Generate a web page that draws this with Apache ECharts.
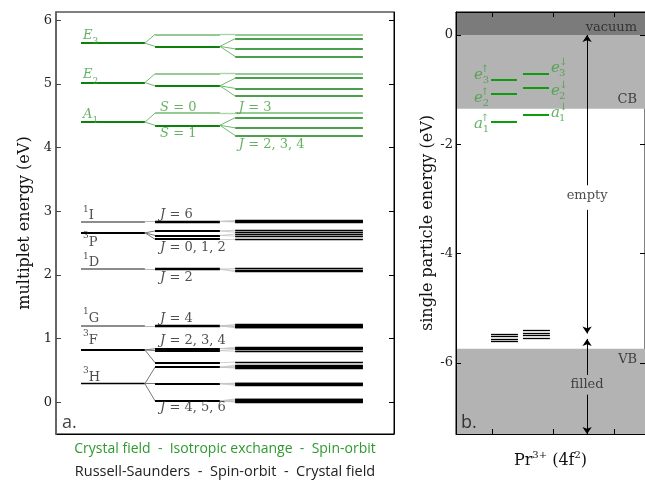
<!DOCTYPE html>
<html><head><meta charset="utf-8">
<script src="https://cdn.jsdelivr.net/npm/echarts@6/dist/echarts.min.js"></script>
<style>html,body{margin:0;padding:0;background:#fff}#c{width:645px;height:481px}</style>
</head><body><div id="c"></div>
<script>
// ================= DATA =================
// ---- panel a ----
const yTicksA = [0, 1, 2, 3, 4, 5, 6];
const stageX = [[0.74, 2.63], [2.93, 4.85], [5.30, 9.08]]; // three stage columns (abstract x units)

// green: crystal field -> isotropic exchange -> spin-orbit
const greenNames = ['E|3', 'E|2', 'A|1'];
const greenCF = [5.64, 5.02, 4.40];
const greenS0 = [5.78, 5.16, 4.54];
const greenS1 = [5.59, 4.97, 4.35];
const greenSO1 = [[5.71, 5.55, 5.43], [5.09, 4.93, 4.81], [4.47, 4.31, 4.19]];

// black: Russell-Saunders -> spin-orbit -> crystal field
const rsNames = ['1|I', '3|P', '1|D', '1|G', '3|F', '3|H'];
const rsE = [2.84, 2.66, 2.09, 1.20, 0.82, 0.29];
const soE = [[2.84], [2.69, 2.62, 2.56], [2.09], [1.20], [0.84, 0.81, 0.62], [0.55, 0.29, 0.02]];
const cfE = [
  [[2.855, 2.845, 2.835, 2.83]],
  [[2.70, 2.67], [2.64, 2.61], [2.56]],
  [[2.10, 2.07, 2.05]],
  [[1.22, 1.21, 1.20, 1.19, 1.18, 1.17]],
  [[0.86, 0.85, 0.84], [0.83, 0.80], [0.63]],
  [[0.58, 0.565, 0.55, 0.535], [0.30, 0.29, 0.28, 0.265], [0.05, 0.04, 0.03, 0.02, 0.01, 0.0]]
];

// labels panel a: [x, y, text]
const greenLabels = [[0.80, 5.76, '{i|E}{sub|3}'], [0.80, 5.14, '{i|E}{sub|2}'], [0.80, 4.52, '{i|A}{sub|1}'],
  [3.08, 4.63, '{i|S} = 0'], [3.08, 4.22, '{i|S} = 1'], [5.41, 4.63, '{i|J} = 3'], [5.41, 4.05, '{i|J} = 2, 3, 4']];
const blackLabels = [[0.80, 2.93, '{sup|1}I'], [3.08, 2.94, '{i|J} = 6'], [0.80, 2.51, '{sup|3}P'],
  [3.08, 2.43, '{i|J} = 0, 1, 2'], [0.80, 2.19, '{sup|1}D'], [3.08, 1.95, '{i|J} = 2'],
  [0.80, 1.32, '{sup|1}G'], [3.08, 1.32, '{i|J} = 4'], [0.80, 0.97, '{sup|3}F'],
  [3.08, 0.97, '{i|J} = 2, 3, 4'], [0.80, 0.39, '{sup|3}H'], [3.08, -0.09, '{i|J} = 4, 5, 6']];

// ---- panel b ----
const xTicksB = [0, 1, 2];
const yTicksB = [0, -2, -4, -6];
const upX = [-0.026, 0.40];
const downX = [0.498, 0.925];
const upLevels = [-0.82, -1.08, -1.59];      // e3, e2, a1 spin up
const downLevels = [-0.71, -0.97, -1.46];    // e3, e2, a1 spin down
const levelLetters = ['e', 'e', 'a'];
const levelIdx = ['3', '2', '1'];
const upLabelY = [-0.73, -1.15, -1.63];
const downLabelY = [-0.60, -1.02, -1.43];
const blackUp = [-5.48, -5.52, -5.57, -5.61];
const blackDown = [-5.41, -5.46, -5.50, -5.55];
const vacuumBand = [0, 0.42];
const cbBand = [-1.35, 0];
const vbBand = [-7.3, -5.74];
const arrowX = 1.55;
const emptyArrows = [[-2.75, 0], [-3.2, -5.46]];
const filledArrows = [[-6.22, -5.56], [-6.58, -7.3]];
const bTexts = [[2.37, 0.13, 'vacuum', 'left'], [2.37, -1.19, 'CB', 'left'], [2.37, -5.94, 'VB', 'left'],
  [arrowX, -2.94, 'empty', 'inside'], [arrowX, -6.40, 'filled', 'inside']];

// ================= STYLES =================
const GD = '#0e800e', GL = '#72b872', GT = '#3f9f3f';
const serif = 'DejaVu Serif';
const linesA = [];
function seg(x0, x1, e0, e1, color, width) {
  linesA.push({ coords: [[x0, e0], [x1, e1]], lineStyle: { color: color, width: width, opacity: 1 } });
}
const [c1, c2, c3] = stageX;
greenCF.forEach((cf, i) => {
  seg(c1[0], c1[1], cf, cf, GD, 2.2);
  seg(c1[1], c2[0], cf, greenS0[i], GL, 1);
  seg(c1[1], c2[0], cf, greenS1[i], GL, 1);
  seg(c2[0], c2[1], greenS0[i], greenS0[i], GL, 1.6);
  seg(c2[0], c2[1], greenS1[i], greenS1[i], GD, 2.2);
  seg(c2[1], c3[0], greenS0[i], greenS0[i], '#a9d6a9', 1.4);
  seg(c3[0], c3[1], greenS0[i], greenS0[i], GL, 1.6);
  greenSO1[i].forEach(so => {
    seg(c2[1], c3[0], greenS1[i], so, GL, 1);
    seg(c3[0], c3[1], so, so, GD, 1.5);
  });
});
rsE.forEach((rs, i) => {
  const triplet = rsNames[i][0] === '3';
  seg(c1[0], c1[1], rs, rs, triplet ? '#000' : '#666', triplet ? (rsNames[i] === '3|H' ? 1.4 : 2.2) : 1.5);
  soE[i].forEach((so, j) => {
    seg(c1[1], c2[0], rs, so, soE[i].length > 1 ? '#777' : '#bbb', 1);
    seg(c2[0], c2[1], so, so, '#000', soE[i].length > 1 ? 1.8 : 2.4);
    cfE[i][j].forEach(cf => {
      seg(c2[1], c3[0], so, cf, '#c4c4c4', 0.8);
      seg(c3[0], c3[1], cf, cf, '#000', 1.3);
    });
  });
});

const linesB = [];
function segB(x0, x1, e0, e1, color, width) {
  linesB.push({ coords: [[x0, e0], [x1, e1]], lineStyle: { color: color, width: width, opacity: 1 } });
}
upLevels.forEach(e => segB(upX[0], upX[1], e, e, '#109a10', 2));
downLevels.forEach(e => segB(downX[0], downX[1], e, e, '#109a10', 2));
blackUp.forEach(e => segB(upX[0], upX[1] + 0.016, e, e, '#000', 1.3));
blackDown.forEach(e => segB(downX[0], downX[1] + 0.015, e, e, '#000', 1.3));
const arrowData = emptyArrows.concat(filledArrows).map(a => ({ coords: [[arrowX, a[0]], [arrowX, a[1]]] }));

function mathRich(color) {
  return {
    i: { fontFamily: serif, fontStyle: 'italic', fontSize: 13, lineHeight: 22, color: color },
    sub: { fontFamily: serif, fontSize: 9, verticalAlign: 'bottom', lineHeight: 10, color: color },
    sup: { fontFamily: serif, fontSize: 9, verticalAlign: 'top', lineHeight: 16, color: color }
  };
}
function labelSeries(data, color, xi, yi) {
  return {
    type: 'scatter', xAxisIndex: xi, yAxisIndex: yi, symbolSize: 0, silent: true, z: 5,
    data: data,
    label: {
      show: true, position: 'right', distance: 0, color: color, fontFamily: serif, fontSize: 13, lineHeight: 22,
      formatter: p => p.data[2], rich: mathRich(color)
    }
  };
}

// panel b state labels (letter + stacked spin/index)
const stateLetters = [], stateStacks = [];
upLevels.forEach((e, i) => {
  stateLetters.push({ value: [upX[0], upLabelY[i], levelLetters[i]], label: { position: 'left', offset: [-8, 0] } });
  stateStacks.push({ value: [upX[0], upLabelY[i], '{s|↑}\n{s|' + levelIdx[i] + '}'], label: { position: 'left', offset: [-2, 0] } });
});
downLevels.forEach((e, i) => {
  stateLetters.push({ value: [downX[1], downLabelY[i], levelLetters[i]], label: { position: 'right', offset: [2, 0] } });
  stateStacks.push({ value: [downX[1], downLabelY[i], '{s|↓}\n{s|' + levelIdx[i] + '}'], label: { position: 'right', offset: [10, 0] } });
});

const noZero = { onZero: false, lineStyle: { color: '#000' } };
const option = {
  animation: false,
  grid: [
    { left: 56, top: 12, width: 338, height: 422, show: true, borderColor: '#000', borderWidth: 1 },
    { left: 456, top: 12, right: -1, bottom: 47, show: true, borderColor: '#000', borderWidth: 1 }
  ],
  xAxis: [
    { gridIndex: 0, type: 'value', min: 0, max: 10, axisLine: noZero, axisTick: { show: false }, axisLabel: { show: false }, splitLine: { show: false } },
    { gridIndex: 1, type: 'value', min: -0.6, max: 2.5, z: 10,
      name: '{a|Pr}{s|3+}{a| (4f}{s|2}{a|)}', nameLocation: 'middle', nameGap: 16,
      nameTextStyle: { rich: { a: { fontFamily: serif, fontSize: 16, color: '#111', lineHeight: 22 }, s: { fontFamily: serif, fontSize: 10, color: '#111', verticalAlign: 'top', lineHeight: 14 } } },
      axisLine: noZero,
      axisTick: { inside: true, length: 5, customValues: xTicksB, lineStyle: { color: '#000' } },
      axisLabel: { show: false }, splitLine: { show: false } },
    { gridIndex: 1, type: 'value', min: -0.6, max: 2.5, position: 'top', z: 10,
      axisLine: noZero,
      axisTick: { inside: true, length: 5, customValues: xTicksB, lineStyle: { color: '#000' } },
      axisLabel: { show: false }, splitLine: { show: false } }
  ],
  yAxis: [
    { gridIndex: 0, type: 'value', min: -0.5, max: 6.13, z: 10,
      name: 'multiplet energy (eV)', nameLocation: 'middle', nameGap: 20,
      nameTextStyle: { fontFamily: serif, fontSize: 16, color: '#111' },
      axisLine: { onZero: false, lineStyle: { color: '#666', width: 2 } },
      axisTick: { inside: true, length: 5, customValues: yTicksA, lineStyle: { color: '#444' } },
      axisLabel: { customValues: yTicksA, margin: 4, fontFamily: serif, fontSize: 13, color: '#222' },
      splitLine: { show: false } },
    { gridIndex: 0, type: 'value', min: -0.5, max: 6.13, position: 'right', z: 10,
      axisLine: noZero,
      axisTick: { inside: true, length: 5, customValues: yTicksA, lineStyle: { color: '#000' } },
      axisLabel: { show: false }, splitLine: { show: false } },
    { gridIndex: 1, type: 'value', min: -7.3, max: 0.42, z: 10,
      name: 'single particle energy (eV)', nameLocation: 'middle', nameGap: 20,
      nameTextStyle: { fontFamily: serif, fontSize: 16, color: '#111' },
      axisLine: noZero,
      axisTick: { inside: true, length: 5, customValues: yTicksB, lineStyle: { color: '#000' } },
      axisLabel: { customValues: yTicksB, margin: 3, fontFamily: serif, fontSize: 13, color: '#222' },
      splitLine: { show: false } },
    { gridIndex: 1, type: 'value', min: -7.3, max: 0.42, position: 'right', z: 10,
      axisLine: noZero,
      axisTick: { inside: true, length: 5, customValues: yTicksB, lineStyle: { color: '#000' } },
      axisLabel: { show: false }, splitLine: { show: false } }
  ],
  series: [
    { type: 'lines', coordinateSystem: 'cartesian2d', xAxisIndex: 0, yAxisIndex: 0, polyline: false, silent: true,
      symbol: 'none', data: linesA, lineStyle: { opacity: 1 }, z: 3 },
    labelSeries(greenLabels, GT, 0, 0),
    labelSeries(blackLabels, '#222', 0, 0),
    { type: 'scatter', xAxisIndex: 0, yAxisIndex: 0, symbolSize: 0, silent: true, data: [[0.18, -0.33, 'a.']],
      label: { show: true, position: 'right', distance: 0, formatter: p => p.data[2], fontFamily: 'Open Sans', fontSize: 18, color: '#111' } },
    // panel b bands
    { type: 'line', xAxisIndex: 1, yAxisIndex: 2, data: [], silent: true, z: 1,
      markArea: { silent: true, itemStyle: { color: '#b3b3b3' },
        data: [
          [{ yAxis: vacuumBand[0], itemStyle: { color: '#7b7b7b' } }, { yAxis: vacuumBand[1] }],
          [{ yAxis: cbBand[0] }, { yAxis: cbBand[1] }],
          [{ yAxis: vbBand[0] }, { yAxis: vbBand[1] }]
        ] } },
    { type: 'lines', coordinateSystem: 'cartesian2d', xAxisIndex: 1, yAxisIndex: 2, polyline: false, silent: true,
      symbol: 'none', data: linesB, lineStyle: { opacity: 1 }, z: 3 },
    { type: 'lines', coordinateSystem: 'cartesian2d', xAxisIndex: 1, yAxisIndex: 2, polyline: false, silent: true,
      symbol: ['none', 'arrow'], symbolSize: 7, lineStyle: { color: '#000', width: 1, opacity: 1 }, data: arrowData, z: 4 },
    { type: 'scatter', xAxisIndex: 1, yAxisIndex: 2, symbolSize: 0, silent: true, z: 5,
      data: bTexts.map(t => ({ value: [t[0], t[1], t[2]], label: { position: t[3] } })),
      label: { show: true, distance: 0, formatter: p => p.data.value[2], fontFamily: serif, fontSize: 13, color: '#222' } },
    { type: 'scatter', xAxisIndex: 1, yAxisIndex: 2, symbolSize: 0, silent: true, z: 5,
      data: [[-0.52, -7.09, 'b.']],
      label: { show: true, position: 'right', distance: 0, formatter: p => p.data[2], fontFamily: 'Open Sans', fontSize: 18, color: '#111' } },
    { type: 'scatter', xAxisIndex: 1, yAxisIndex: 2, symbolSize: 0, silent: true, z: 5, data: stateLetters,
      label: { show: true, distance: 0, formatter: p => p.data.value[2], fontFamily: serif, fontStyle: 'italic', fontSize: 15, color: GT } },
    { type: 'scatter', xAxisIndex: 1, yAxisIndex: 2, symbolSize: 0, silent: true, z: 5, data: stateStacks,
      label: { show: true, distance: 0, formatter: p => p.data.value[2], color: GT,
        rich: { s: { fontFamily: serif, fontSize: 10, lineHeight: 11, color: GT } } } }
  ],
  graphic: [
    { type: 'text', x: 225, y: 442, style: { text: 'Crystal field  -  Isotropic exchange  -  Spin-orbit', textAlign: 'center', fontFamily: 'Open Sans', fontSize: 14, fill: '#2e9a2e' } },
    { type: 'text', x: 225, y: 464, style: { text: 'Russell-Saunders  -  Spin-orbit  -  Crystal field', textAlign: 'center', fontFamily: 'Open Sans', fontSize: 14.5, fill: '#222' } }
  ]
};
const chart = echarts.init(document.getElementById('c'));
chart.setOption(option);
</script>
</body></html>
